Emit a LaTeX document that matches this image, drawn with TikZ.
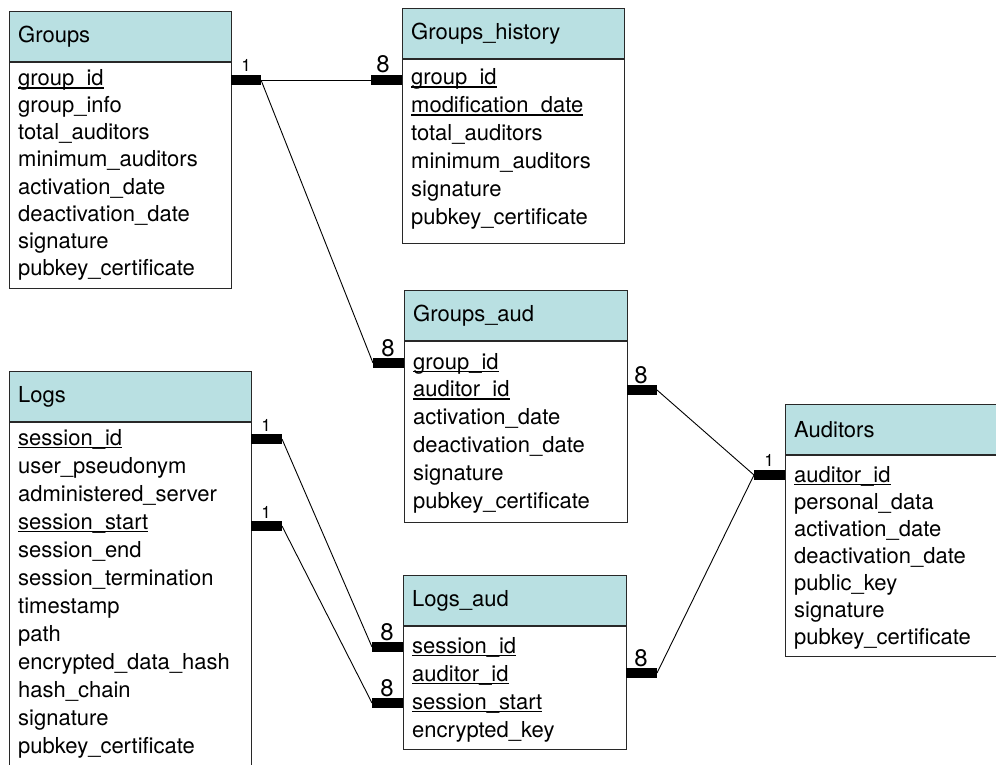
\documentclass[tikz,border=0pt]{standalone}
\usepackage{fontspec}
\setmainfont{TeX Gyre Heros}
\usetikzlibrary{calc}
\definecolor{hdrfill}{RGB}{185,224,226}
\definecolor{boxline}{RGB}{40,40,40}
\newcommand\ukey[1]{\setbox0\hbox{#1}\rlap{\rule[-3pt]{\wd0}{1.5pt}}\box0}
% #1 name, #2 left x, #3 top y, #4 width, #5 bottom y, #6 first baseline y, #7 row spacing, #8 title, #9 rows
\newcommand\ertable[9]{%
  \node[hdr, minimum width=#4, minimum height=50, anchor=north west] (#1-h) at (#2,#3) {};
  \node[ttl, anchor=west] (#1-title) at ([xshift=9pt]#1-h.west) {#8};
  \node[bdy, minimum width=#4, minimum height={#5-#3-50}, anchor=north west] (#1-b) at (#1-h.south west) {};
  \foreach \r [count=\i] in {#9} {\node[fld] (#1-\i) at ({#2+9},{#6+#7*(\i-1)}) {\r};}
}
\begin{document}
\begin{tikzpicture}[x=1pt,y=-1pt,
  hdr/.style={draw=boxline, line width=1.2pt, fill=hdrfill, inner sep=0},
  bdy/.style={draw=boxline, line width=1.2pt, fill=white, inner sep=0},
  ttl/.style={inner sep=0, font=\fontsize{22}{26}\selectfont},
  fld/.style={inner sep=0, anchor=base west, font=\fontsize{22}{26}\selectfont},
  bar/.style={line width=10pt},
  link/.style={line width=0.9pt},
  many/.style={inner sep=0, anchor=base, font=\fontsize{24}{28}\selectfont},
  one/.style={inner sep=0, anchor=base, font=\fontsize{17}{20}\selectfont}]
\useasboundingbox (0,0) rectangle (996,765);

\ertable{groups}{9}{11}{222}{287}{86}{27}{Groups}{\ukey{group\_id},group\_info,total\_auditors,minimum\_auditors,activation\_date,deactivation\_date,signature,pubkey\_certificate}
\ertable{ghist}{402}{8}{222}{242}{85}{27.8}{Groups\_history}{\ukey{group\_id},\ukey{modification\_date},total\_auditors,minimum\_auditors,signature,pubkey\_certificate}
\ertable{gaud}{404}{290}{223}{521}{369}{27.8}{Groups\_aud}{\ukey{group\_id},\ukey{auditor\_id},activation\_date,deactivation\_date,signature,pubkey\_certificate}
\ertable{logs}{9}{371}{242}{790}{445}{28}{Logs}{\ukey{session\_id},user\_pseudonym,administered\_server,\ukey{session\_start},session\_end,session\_termination,timestamp,path,encrypted\_data\_hash,hash\_chain,signature,pubkey\_certificate}
\ertable{aud}{785}{404}{225}{655}{482}{27}{Auditors}{\ukey{auditor\_id},personal\_data,activation\_date,deactivation\_date,public\_key,signature,pubkey\_certificate}
\ertable{laud}{403}{575}{223}{748}{653}{28}{Logs\_aud}{\ukey{session\_id},\ukey{auditor\_id},\ukey{session\_start},encrypted\_key}

% bar end points
\coordinate (gR0) at (231,80);  \coordinate (gR1) at (261,80);
\coordinate (ghL0) at (371,80); \coordinate (ghL1) at (402,80);
\coordinate (gaL0) at (373,363); \coordinate (gaL1) at (404,363);
\coordinate (gaR0) at (627,390); \coordinate (gaR1) at (657,390);
\coordinate (auL0) at (754,475); \coordinate (auL1) at (785,475);
\coordinate (laR0) at (626,673); \coordinate (laR1) at (657,673);
\coordinate (lgA0) at (251,439); \coordinate (lgA1) at (282,439);
\coordinate (lgB0) at (251,526); \coordinate (lgB1) at (282,526);
\coordinate (laA0) at (372,647); \coordinate (laA1) at (403,647);
\coordinate (laB0) at (372,703); \coordinate (laB1) at (403,703);

\foreach \b in {gR,ghL,gaL,gaR,auL,laR,lgA,lgB,laA,laB}
  \draw[bar] (\b0) -- (\b1);

% connectors
\draw[link] (gR1) -- (ghL0);
\draw[link] (gR1) -- (gaL0);
\draw[link] (gaR1) -- (auL0);
\draw[link] (laR1) -- (auL0);
\draw[link] (lgA1) -- (laA0);
\draw[link] (lgB1) -- (laB0);

% cardinality labels
\node[one]  (c-gR)  at (246,72)  {1};
\node[many] (c-ghL) at (383,73)  {8};
\node[many] (c-gaL) at (388,356) {8};
\node[many] (c-gaR) at (641,383) {8};
\node[one]  (c-auL) at (769,466) {1};
\node[many] (c-laR) at (641,666) {8};
\node[one]  (c-lgA) at (266,431) {1};
\node[one]  (c-lgB) at (266,518) {1};
\node[many] (c-laA) at (387,640) {8};
\node[many] (c-laB) at (387,696) {8};
\end{tikzpicture}
\end{document}
